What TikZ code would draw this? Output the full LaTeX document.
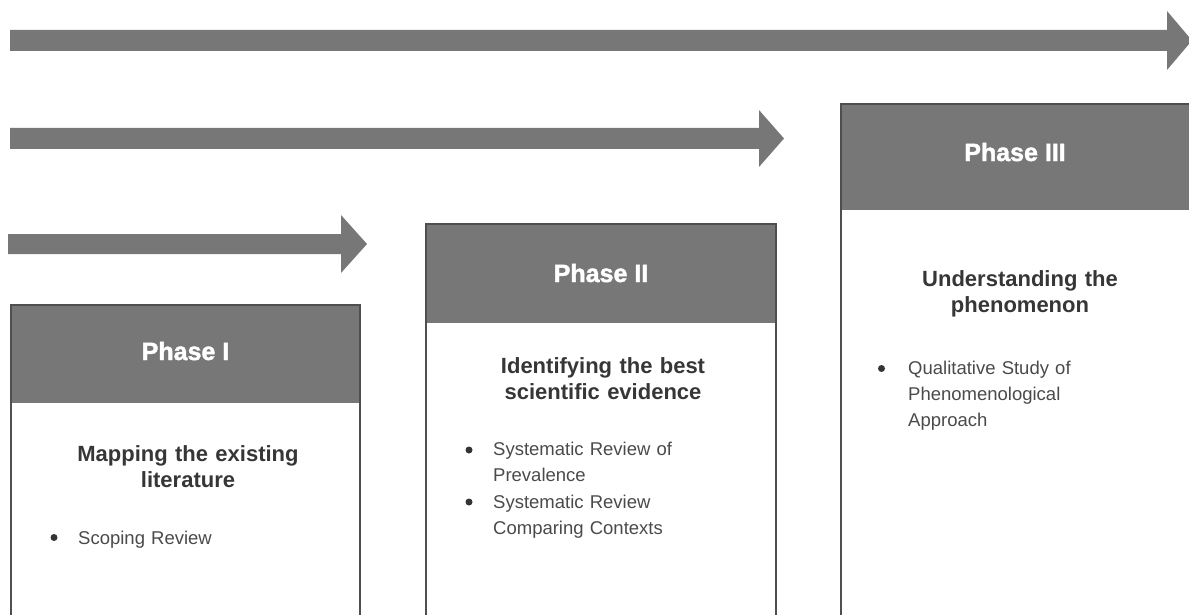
\documentclass[tikz,border=0pt]{standalone}
\usepackage{fontspec}
\setmainfont{Liberation Sans}
\newfontfamily\phasefont[FakeBold=1.6]{Liberation Sans Bold}

\definecolor{bandgray}{HTML}{777777}
\definecolor{edgegray}{HTML}{4F4F4F}
\definecolor{titleink}{HTML}{363636}
\definecolor{itemink}{HTML}{4A4A4A}

\tikzset{
  band/.style={fill=bandgray},
  frame/.style={draw=edgegray, line width=1.5pt},
  phasetitle/.style={text=white, font=\phasefont\fontsize{25}{30}\selectfont,
    inner sep=0pt, anchor=base},
  goal/.style={text=titleink, font=\bfseries\fontsize{22}{26}\selectfont,
    inner sep=0pt, anchor=base, align=center, text width=320pt},
  item/.style={text=itemink, font=\fontsize{18.5}{26}\selectfont,
    inner sep=0pt, anchor=base west, align=left, text width=250pt},
  dot/.style={circle, fill=itemink!70!black, inner sep=0pt, minimum size=7pt},
}

\begin{document}
\begin{tikzpicture}[x=1pt, y=-1pt]
\useasboundingbox (0,0) rectangle (1189,615);
\clip (0,0) rectangle (1189,615);

% timeline arrows, longest on top
\fill[band] (10,30) -- (1167,30) -- (1167,11) -- (1192,40.5) -- (1167,70)
  -- (1167,51) -- (10,51) -- cycle;
\fill[band] (10,128) -- (759,128) -- (759,110) -- (784,138.5) -- (759,167)
  -- (759,149) -- (10,149) -- cycle;
\fill[band] (8,234) -- (341,234) -- (341,215) -- (367,244) -- (341,273)
  -- (341,254) -- (8,254) -- cycle;

% Phase I panel
\fill[band] (11,305) rectangle (360,403);
\draw[frame] (11,305) rectangle (360,640);
\node[phasetitle] (t1) at (185.5,360) {Phase I};
\node[goal] (g1) at (188,461.5) {Mapping the existing\\literature};
\node[dot] (d1a) at (54,537.5) {};
\node[item] (i1a) at (78,544) {Scoping Review};

% Phase II panel
\fill[band] (426,224) rectangle (776,323);
\draw[frame] (426,224) rectangle (776,640);
\node[phasetitle] (t2) at (601,282) {Phase II};
\node[goal] (g2) at (603,373) {Identifying the best\\scientific evidence};
\node[dot] (d2a) at (469,450) {};
\node[item] (i2a) at (493,455) {Systematic Review of\\Prevalence};
\node[dot] (d2b) at (469,502) {};
\node[item] (i2b) at (493,508) {Systematic Review\\Comparing Contexts};

% Phase III panel
\fill[band] (841,104) rectangle (1200,210);
\draw[frame] (841,104) rectangle (1200,640);
\node[phasetitle] (t3) at (1015,161) {Phase III};
\node[goal] (g3) at (1020,286) {Understanding the\\phenomenon};
\node[dot] (d3a) at (881.5,368.5) {};
\node[item] (i3a) at (908,374) {Qualitative Study of\\Phenomenological\\Approach};
\end{tikzpicture}
\end{document}
